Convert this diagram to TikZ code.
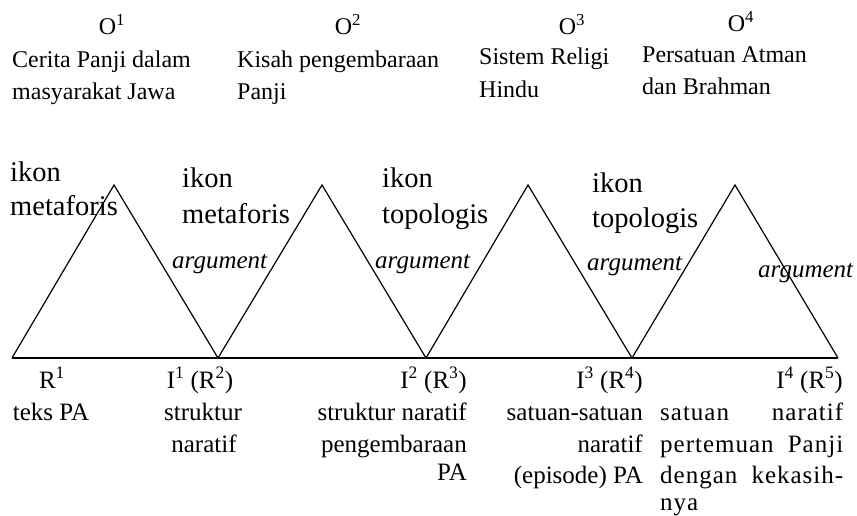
\documentclass[tikz,border=0pt]{standalone}
\usepackage{fontspec}
\setmainfont{Liberation Serif}
\begin{document}
\begin{tikzpicture}[x=1pt,y=-1pt,
  txt/.style={inner sep=0pt, font=\fontsize{24}{32}\selectfont},
  btxt/.style={inner sep=0pt, font=\fontsize{25}{32}\selectfont},
  gtxt/.style={inner sep=0pt, font=\fontsize{28.5}{34}\selectfont},
  itxt/.style={inner sep=0pt, font=\fontsize{25}{32}\selectfont\itshape},
  jtxt/.style={inner sep=0pt, font=\fontsize{25}{32}\selectfont\addfontfeature{LetterSpace=4}},
  tri/.style={line width=1.2pt, line join=miter},
  base line/.style={line width=1.6pt}]
\useasboundingbox (0,0) rectangle (857,516);
% triangle corners
\coordinate (b0) at (12,358);
\coordinate (b1) at (218,358);
\coordinate (b2) at (426,358);
\coordinate (b3) at (632,358);
\coordinate (b4) at (838,358);
\coordinate (a1) at (114,185);
\coordinate (a2) at (322,185);
\coordinate (a3) at (528,185);
\coordinate (a4) at (735,185);
\draw[tri] (b0) -- (a1) -- (b1) -- (a2) -- (b2) -- (a3) -- (b3) -- (a4) -- (b4);
\draw[base line] (b0) -- (b4);
% top objects
\node[txt, anchor=base] (o1) at (112,35) {O\textsuperscript{1}};
\node[txt, anchor=base west] (o1a) at (12,68) {Cerita Panji dalam};
\node[txt, anchor=base west] (o1b) at (12,100) {masyarakat Jawa};
\node[txt, anchor=base] (o2) at (348,35) {O\textsuperscript{2}};
\node[txt, anchor=base west] (o2a) at (237,68) {Kisah pengembaraan};
\node[txt, anchor=base west] (o2b) at (237,100) {Panji};
\node[txt, anchor=base] (o3) at (572,35) {O\textsuperscript{3}};
\node[txt, anchor=base west] (o3a) at (479,65) {Sistem Religi};
\node[txt, anchor=base west] (o3b) at (479,98) {Hindu};
\node[txt, anchor=base] (o4) at (741,32) {O\textsuperscript{4}};
\node[txt, anchor=base west] (o4a) at (642,63) {Persatuan Atman};
\node[txt, anchor=base west] (o4b) at (642,95) {dan Brahman};
% grounds
\node[gtxt, anchor=base west] (g1a) at (10,182) {ikon};
\node[gtxt, anchor=base west] (g1b) at (10,215) {metaforis};
\node[gtxt, anchor=base west] (g2a) at (182,188) {ikon};
\node[gtxt, anchor=base west] (g2b) at (182,223) {metaforis};
\node[itxt, anchor=base west] (g2c) at (172,268) {argument};
\node[gtxt, anchor=base west] (g3a) at (382,188) {ikon};
\node[gtxt, anchor=base west] (g3b) at (382,223) {topologis};
\node[itxt, anchor=base west] (g3c) at (375,268) {argument};
\node[gtxt, anchor=base west] (g4a) at (592,193) {ikon};
\node[gtxt, anchor=base west] (g4b) at (592,227) {topologis};
\node[itxt, anchor=base west] (g4c) at (587,270) {argument};
\node[itxt, anchor=base west] (g5c) at (758,277) {argument};
% representamens / interpretants
\node[btxt, anchor=base] (r1) at (52,388) {R\textsuperscript{1}};
\node[btxt, anchor=base] (r1a) at (51,420) {teks PA};
\node[btxt, anchor=base] (i1) at (200,388) {I\textsuperscript{1} (R\textsuperscript{2})};
\node[btxt, anchor=base] (i1a) at (203,420) {struktur};
\node[btxt, anchor=base] (i1b) at (204,452) {naratif};
\node[btxt, anchor=base east] (i2) at (467,388) {I\textsuperscript{2} (R\textsuperscript{3})};
\node[btxt, anchor=base east] (i2a) at (467,420) {struktur naratif};
\node[btxt, anchor=base east] (i2b) at (467,452) {pengembaraan};
\node[btxt, anchor=base east] (i2c) at (467,480) {PA};
\node[btxt, anchor=base east] (i3) at (643,388) {I\textsuperscript{3} (R\textsuperscript{4})};
\node[btxt, anchor=base east] (i3a) at (643,420) {satuan-satuan};
\node[btxt, anchor=base east] (i3b) at (643,452) {naratif};
\node[btxt, anchor=base east] (i3c) at (643,483) {(episode) PA};
\node[btxt, anchor=base east] (i4) at (843,388) {I\textsuperscript{4} (R\textsuperscript{5})};
\node[jtxt, anchor=base west] (i4a) at (660,420) {\makebox[183pt][s]{satuan\hfill naratif}};
\node[jtxt, anchor=base west] (i4b) at (660,452) {\makebox[183pt][s]{pertemuan Panji}};
\node[jtxt, anchor=base west] (i4c) at (660,483) {\makebox[183pt][s]{dengan kekasih-}};
\node[jtxt, anchor=base west] (i4d) at (660,510) {nya};
\end{tikzpicture}
\end{document}
